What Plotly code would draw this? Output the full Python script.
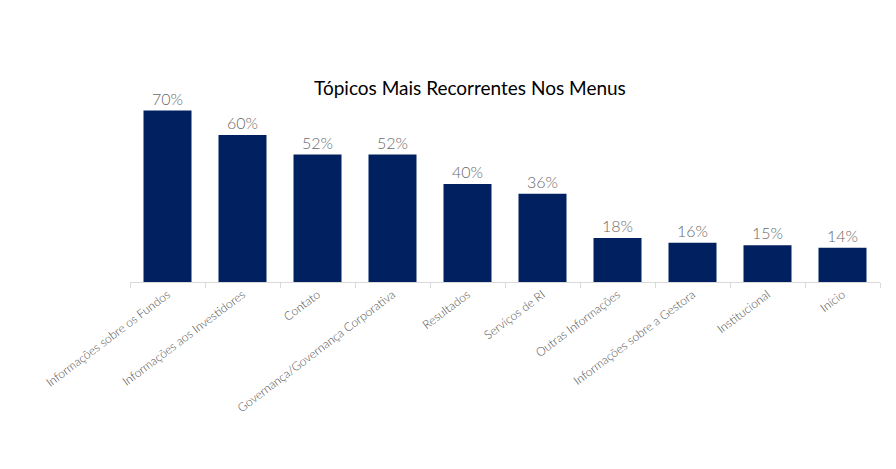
import plotly.graph_objects as go

categories = ["Informações sobre os Fundos", "Informações aos Investidores", "Contato",
              "Governança/Governança Corporativa", "Resultados", "Serviços de RI",
              "Outras Informações", "Informações sobre a Gestora", "Institucional", "Início"]
values = [70, 60, 52, 52, 40, 36, 18, 16, 15, 14]
labels = [f"{v}%" for v in values]

fig = go.Figure(go.Bar(
    x=categories, y=values, text=labels, textposition="outside",
    marker=dict(color="#002060", line=dict(width=0)),
    textfont=dict(family="Lato", size=16, color="#6a6a6a", weight=300),
    cliponaxis=False, width=0.64,
))
fig.update_layout(
    width=896, height=469, paper_bgcolor="white", plot_bgcolor="white",
    margin=dict(l=130, r=16, t=100, b=187),
    title=dict(text="Tópicos Mais Recorrentes Nos Menus", x=0.5245, xanchor="center",
               y=1 - 88 / 469, yanchor="middle",
               font=dict(family="Lato", size=19, color="#000000")),
    showlegend=False,
    xaxis=dict(tickangle=-37, tickfont=dict(family="Lato", size=12, color="#505050", weight=300),
               showline=True, linecolor="#d9d9d9", linewidth=1,
               ticks="outside", tickcolor="#d9d9d9", ticklen=5, tickson="boundaries",
               showgrid=False),
    yaxis=dict(range=[0, 74.3], visible=False, showgrid=False),
)
fig.write_html("out.html")
